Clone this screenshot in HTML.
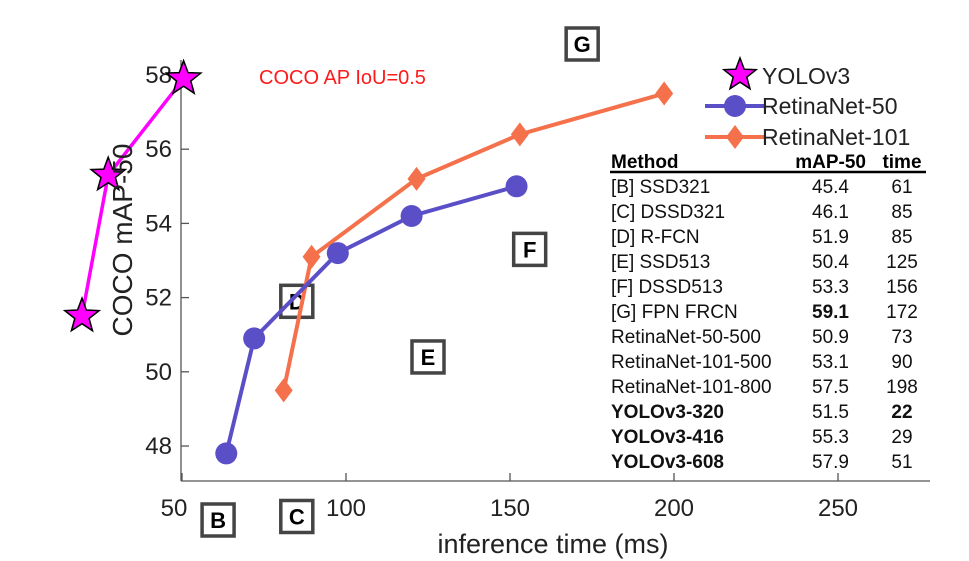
<!DOCTYPE html>
<html><head><meta charset="utf-8"><style>
body{margin:0;background:#fff;}
svg{display:block;font-family:"Liberation Sans",Arial,sans-serif;}
</style></head><body>
<svg id="chart" width="969" height="561">
<g id="axes"></g>
<g id="boxes"></g>
<g id="series"></g>
<text x="259" y="84" font-size="20" fill="#ff1a1a">COCO AP IoU=0.5</text>
<g id="legend"></g>
<g id="table"></g>
<text x="553" y="553" font-size="27" text-anchor="middle" fill="#222">inference time (ms)</text>
<text transform="translate(132,240) rotate(-90)" font-size="28" text-anchor="middle" fill="#222">COCO mAP-50</text>
</svg>
<script>
const xTicks=[50,100,150,200,250];
const yTicks=[48,50,52,54,56,58];
const yoloTime=[19.5,27.5,50.5];
const yoloMap=[51.5,55.3,57.9];
const r50Time=[63.5,72,97.5,120,152];
const r50Map=[47.8,50.9,53.2,54.2,55.0];
const r101Time=[81,89.5,121.5,153,197];
const r101Map=[49.5,53.1,55.2,56.4,57.5];
const boxLabels=['B','C','D','E','F','G'];
const boxTime=[61,85,85,125,156,172];
const boxMap=[45.4,46.1,51.9,50.4,53.3,59.1];
const tableMethods=['[B] SSD321','[C] DSSD321','[D] R-FCN','[E] SSD513','[F] DSSD513','[G] FPN FRCN','RetinaNet-50-500','RetinaNet-101-500','RetinaNet-101-800','YOLOv3-320','YOLOv3-416','YOLOv3-608'];
const tableMap=['45.4','46.1','51.9','50.4','53.3','59.1','50.9','53.1','57.5','51.5','55.3','57.9'];
const tableTime=['61','85','85','125','156','172','73','90','198','22','29','51'];

const NS='http://www.w3.org/2000/svg';
const X=v=>182+(v-50)*3.28;
const Y=v=>446-(v-48)*37.1;
function mk(tag,attrs,parent,text){const e=document.createElementNS(NS,tag);for(const k in attrs)e.setAttribute(k,attrs[k]);if(text!==undefined)e.textContent=text;parent.appendChild(e);return e;}
const axes=document.getElementById('axes');
let e;
e=mk('line',{x1:181,y1:60,x2:181,y2:481,stroke:'#555','stroke-width':1.3},axes);


e=mk('line',{x1:181,y1:481,x2:930,y2:481,stroke:'#555','stroke-width':1.3},axes);


xTicks.forEach(t=>{
  mk('line',{x1:X(t),y1:481,x2:X(t),y2:473,stroke:'#555','stroke-width':1.3},axes);
  e=mk('text',{x:X(t)+(t===50?-8:0),y:516,'font-size':24,'text-anchor':'middle',fill:'#222'},axes,t);
  
  
});
yTicks.forEach(t=>{
  mk('line',{x1:181,y1:Y(t),x2:189,y2:Y(t),stroke:'#555','stroke-width':1.3},axes);
  e=mk('text',{x:172,y:Y(t)+8,'font-size':24,'text-anchor':'end',fill:'#222'},axes,t);
  
  
});
const boxes=document.getElementById('boxes');
boxLabels.forEach((l,i)=>{
  let cx=X(boxTime[i]), cy=Y(boxMap[i]);
  if(cy>520)cy=520; if(cy<44)cy=44;
  const g=mk('g',{},boxes);
  
  
  mk('rect',{x:cx-16,y:cy-16,width:32,height:32,fill:'#fff',stroke:'#444','stroke-width':3.5},g);
  mk('text',{x:cx,y:cy+8,'font-size':22,'font-weight':'bold','text-anchor':'middle',fill:'#000'},g,l);
});
const series=document.getElementById('series');
function star(cx,cy,R,parent){let p='';for(let i=0;i<10;i++){const r=i%2?R*0.42:R;const a=-Math.PI/2+i*Math.PI/5;p+=(cx+r*Math.cos(a)).toFixed(1)+','+(cy+r*Math.sin(a)).toFixed(1)+' ';}return mk('polygon',{points:p,fill:'#ff00ff',stroke:'#000','stroke-width':1.5},parent);}
function diamond(cx,cy,R,parent){return mk('polygon',{points:`${cx},${cy-R} ${cx+R*0.75},${cy} ${cx},${cy+R} ${cx-R*0.75},${cy}`,fill:'#f4714b'},parent);}
let g=mk('g',{},series);


mk('polyline',{points:r101Time.map((t,i)=>X(t)+','+Y(r101Map[i])).join(' '),fill:'none',stroke:'#f4714b','stroke-width':4},g);
r101Time.forEach((t,i)=>{e=diamond(X(t),Y(r101Map[i]),12,g);});
g=mk('g',{},series);


mk('polyline',{points:r50Time.map((t,i)=>X(t)+','+Y(r50Map[i])).join(' '),fill:'none',stroke:'#5b4fc8','stroke-width':4},g);
r50Time.forEach((t,i)=>{e=mk('circle',{cx:X(t),cy:Y(r50Map[i]),r:11,fill:'#5b4fc8'},g);});
g=mk('g',{},series);


mk('polyline',{points:yoloTime.map((t,i)=>X(t)+','+Y(yoloMap[i])).join(' '),fill:'none',stroke:'#ff00ff','stroke-width':3.5},g);
yoloTime.forEach((t,i)=>{e=star(X(t),Y(yoloMap[i]),18,g);});
const lg=document.getElementById('legend');
star(740,75,17,lg);
mk('text',{x:762,y:84,'font-size':23,fill:'#222'},lg,'YOLOv3');
mk('line',{x1:705,y1:106,x2:766,y2:106,stroke:'#5b4fc8','stroke-width':4},lg);
mk('circle',{cx:735,cy:106,r:11,fill:'#5b4fc8'},lg);
mk('text',{x:762,y:114,'font-size':23,fill:'#222'},lg,'RetinaNet-50');
mk('line',{x1:705,y1:137,x2:766,y2:137,stroke:'#f4714b','stroke-width':4},lg);
diamond(735,137,12,lg);
mk('text',{x:762,y:145,'font-size':23,fill:'#222'},lg,'RetinaNet-101');
const tb=document.getElementById('table');
mk('rect',{x:608,y:150,width:320,height:323,fill:'#fff'},tb);
mk('text',{x:611,y:168,'font-size':19,'font-weight':'bold'},tb,'Method');
mk('text',{x:866,y:168,'font-size':19,'font-weight':'bold','text-anchor':'end'},tb,'mAP-50');
mk('text',{x:902,y:168,'font-size':19,'font-weight':'bold','text-anchor':'middle'},tb,'time');
mk('line',{x1:610,y1:172,x2:926,y2:172,stroke:'#000','stroke-width':2.5},tb);
tableMethods.forEach((m,i)=>{
  const y=193+i*25;const yb=i>=9;
  const r=mk('g',{},tb);
  
  
  mk('text',{x:611,y:y,'font-size':19,'font-weight':yb?'bold':'normal',fill:'#111'},r,m);
  mk('text',{x:849,y:y,'font-size':19,'font-weight':i===5?'bold':'normal','text-anchor':'end',fill:'#111'},r,tableMap[i]);
  mk('text',{x:902,y:y,'font-size':19,'font-weight':i===9?'bold':'normal','text-anchor':'middle',fill:'#111'},r,tableTime[i]);
});
</script>
</body></html>
